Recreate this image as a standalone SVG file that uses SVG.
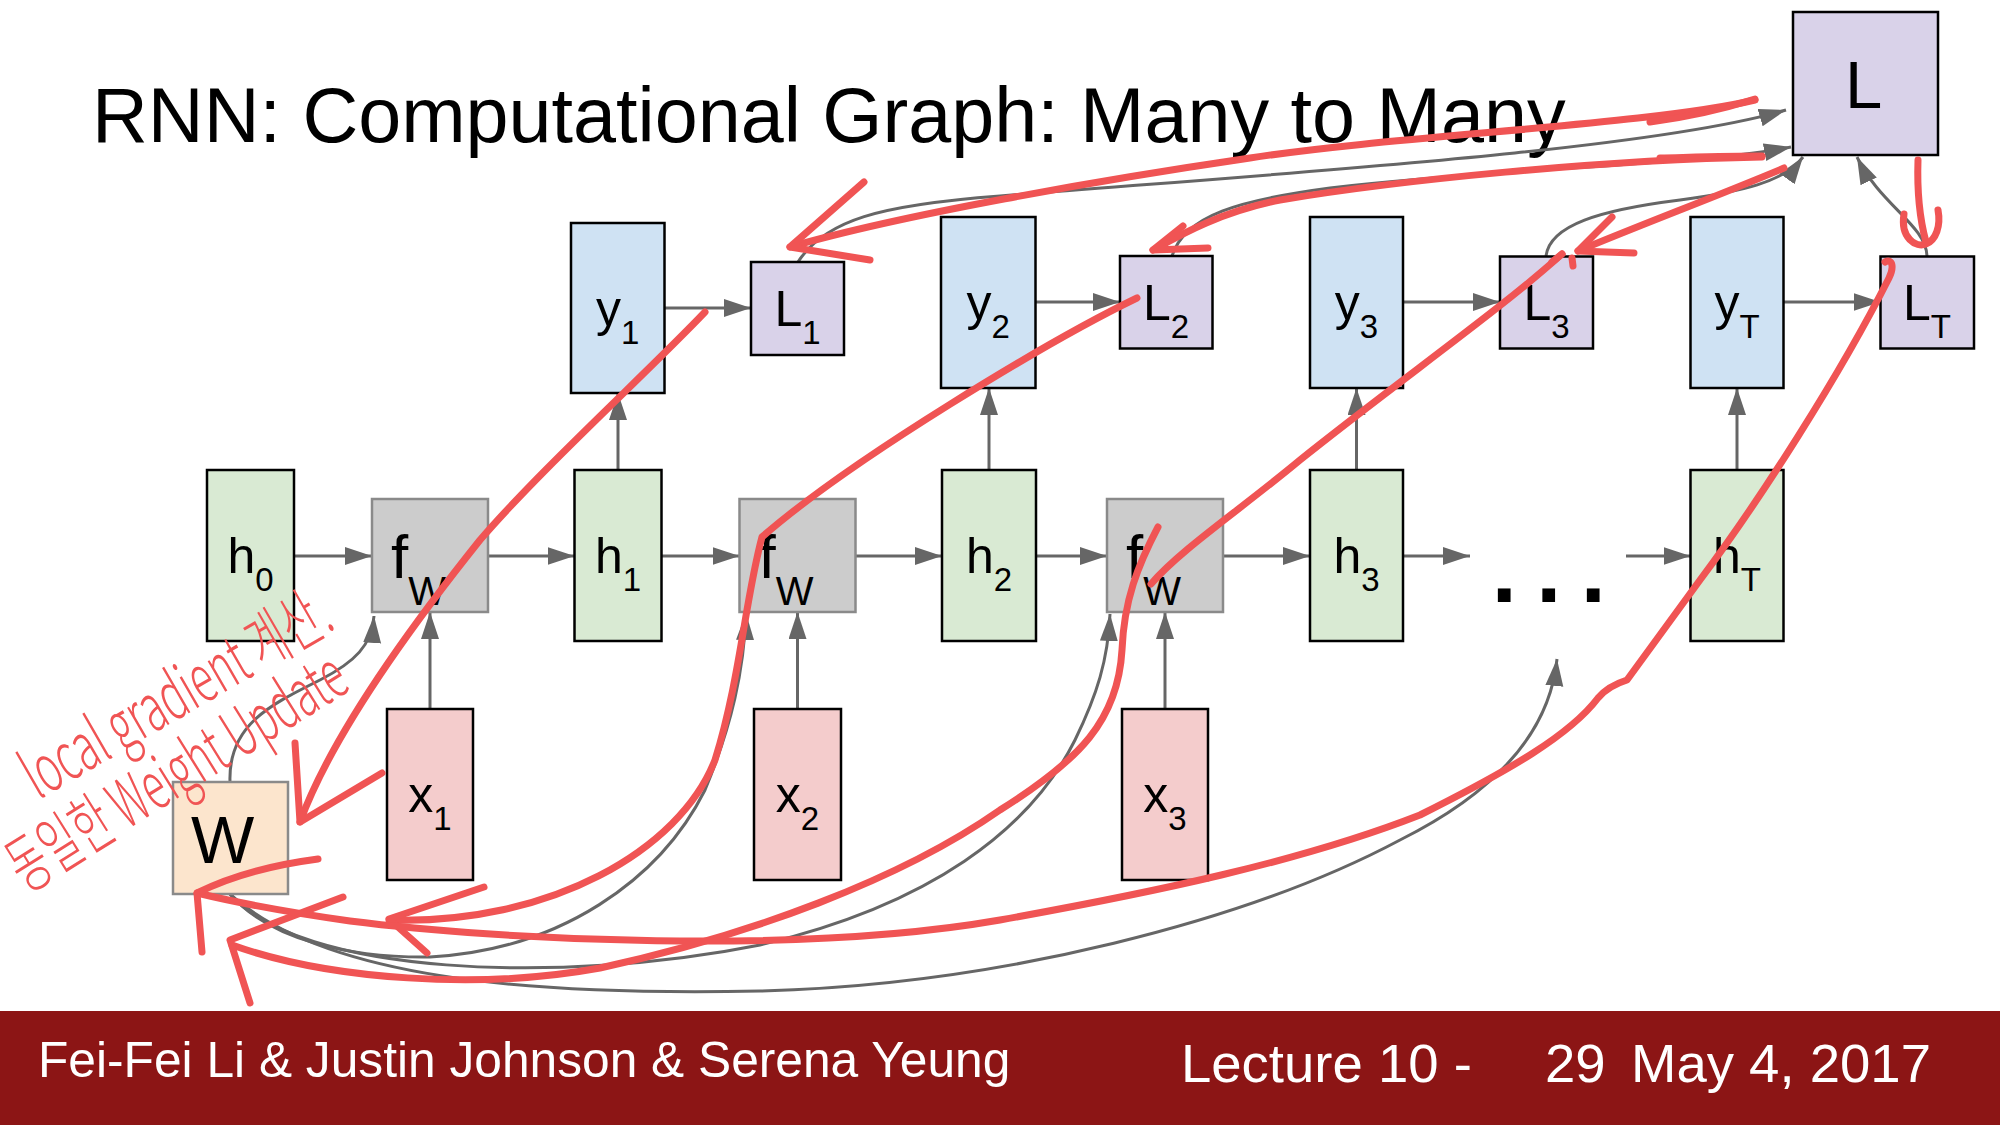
<svg xmlns="http://www.w3.org/2000/svg" width="2000" height="1125" viewBox="0 0 2000 1125">
<defs>
<marker id="ah" markerUnits="userSpaceOnUse" markerWidth="30" markerHeight="20" refX="27" refY="9" orient="auto"><path d="M0,0 L27,9 L0,18 z" fill="#666"/></marker>
<style>
.bx{stroke:#000;stroke-width:2.5}
.h{fill:#d9ead3}.y{fill:#cfe2f3}.l{fill:#d9d2e9}.x{fill:#f4cccc}
.f{fill:#cccccc;stroke:#8a8a8a;stroke-width:2.5}
.w{fill:#fce5cd;stroke:#8a8a8a;stroke-width:2.5}
.lbl{font-family:"Liberation Sans",Arial,sans-serif;font-size:50px;fill:#000;text-anchor:middle}
.sub{font-size:33px}
.big{font-family:"Liberation Sans",Arial,sans-serif;font-size:67px;fill:#000}
.fl{font-family:"Liberation Sans",Arial,sans-serif;font-size:62px;fill:#000}
.fs{font-size:40px}
.con{fill:none;stroke:#666;stroke-width:3;marker-end:url(#ah)}
.red{fill:none;stroke:#f05454;stroke-width:7;stroke-linecap:round;stroke-linejoin:round}
.hw{font-family:"Noto Sans CJK KR","Noto Sans",sans-serif;font-size:66px;fill:#f05454;font-weight:300}
.ft{font-family:"Liberation Sans",Arial,sans-serif;fill:#fff}
</style>
</defs>
<rect width="2000" height="1125" fill="#fff"/>
<text x="92" y="142" font-family="Liberation Sans, Arial, sans-serif" font-size="77.3" fill="#000">RNN: Computational Graph: Many to Many</text>

<g id="connectors">
<line class="con" x1="294" y1="556" x2="372" y2="556"/>
<line class="con" x1="488" y1="556" x2="574.5" y2="556"/>
<line class="con" x1="661" y1="556" x2="739.5" y2="556"/>
<line class="con" x1="855.5" y1="556" x2="942" y2="556"/>
<line class="con" x1="1036" y1="556" x2="1107" y2="556"/>
<line class="con" x1="1223" y1="556" x2="1310" y2="556"/>
<line class="con" x1="1403" y1="556" x2="1470" y2="556"/>
<line class="con" x1="1626" y1="556" x2="1690.5" y2="556"/>
<line class="con" x1="430" y1="709" x2="430" y2="612"/>
<line class="con" x1="797.5" y1="709" x2="797.5" y2="612"/>
<line class="con" x1="1165" y1="709" x2="1165" y2="612"/>
<line class="con" x1="618" y1="470" x2="618" y2="393"/>
<line class="con" x1="989" y1="470" x2="989" y2="388"/>
<line class="con" x1="1356.5" y1="470" x2="1356.5" y2="388"/>
<line class="con" x1="1737" y1="470" x2="1737" y2="388"/>
<line class="con" x1="664.5" y1="308" x2="751" y2="308"/>
<line class="con" x1="1035.5" y1="302" x2="1120" y2="302"/>
<line class="con" x1="1403" y1="302" x2="1500" y2="302"/>
<line class="con" x1="1783.5" y1="302" x2="1880.5" y2="302"/>
<path class="con" d="M230,782 C228,725 270,705 320,680 C355,662 372,645 374,616"/>
<path class="con" d="M230,894 C270,940 350,958 430,957 C560,950 660,880 705,790 C732,725 744,670 746,613"/>
<path class="con" d="M230,894 C300,975 560,985 760,945 C930,905 1030,830 1075,740 C1097,695 1108,660 1110,614"/>
<path class="con" d="M230,894 C330,985 560,995 760,991 C1000,985 1250,920 1400,840 C1500,790 1550,730 1557,659"/>
<path class="con" d="M798,262 C825,220 880,205 1000,196 C1300,172 1650,150 1786,110"/>
<path class="con" d="M1172,256 C1185,215 1240,200 1330,188 C1500,168 1700,165 1791,147"/>
<path class="con" d="M1546,256 C1550,225 1600,210 1680,200 C1740,192 1785,182 1803,157"/>
<path class="con" d="M1927,256 C1926,225 1880,205 1857,157"/>
</g>

<g id="h0"><rect class="bx h" x="207" y="470" width="87" height="171"/><text class="lbl" x="250.5" y="573">h<tspan class="sub" dy="18">0</tspan></text></g>
<g id="fw1"><rect class="f" x="372" y="499" width="116" height="113"/><text class="fl" x="391" y="578">f<tspan class="fs" dy="27">W</tspan></text></g>
<g id="h1"><rect class="bx h" x="574.5" y="470" width="87" height="171"/><text class="lbl" x="618" y="573">h<tspan class="sub" dy="18">1</tspan></text></g>
<g id="fw2"><rect class="f" x="739.5" y="499" width="116" height="113"/><text class="fl" x="758.5" y="578">f<tspan class="fs" dy="27">W</tspan></text></g>
<g id="h2"><rect class="bx h" x="942" y="470" width="94" height="171"/><text class="lbl" x="989" y="573">h<tspan class="sub" dy="18">2</tspan></text></g>
<g id="fw3"><rect class="f" x="1107" y="499" width="116" height="113"/><text class="fl" x="1126" y="578">f<tspan class="fs" dy="27">W</tspan></text></g>
<g id="h3"><rect class="bx h" x="1310" y="470" width="93" height="171"/><text class="lbl" x="1356.5" y="573">h<tspan class="sub" dy="18">3</tspan></text></g>
<g id="dots"><text x="1491.7" y="602" font-family="Liberation Sans, Arial, sans-serif" font-weight="bold" font-size="90" letter-spacing="19.5" fill="#000">...</text></g>
<g id="hT"><rect class="bx h" x="1690.5" y="470" width="93" height="171"/><text class="lbl" x="1737" y="573">h<tspan class="sub" dy="18">T</tspan></text></g>
<g id="x1"><rect class="bx x" x="387" y="709" width="86" height="171"/><text class="lbl" x="430" y="812">x<tspan class="sub" dy="18">1</tspan></text></g>
<g id="x2"><rect class="bx x" x="754" y="709" width="87" height="171"/><text class="lbl" x="797.5" y="812">x<tspan class="sub" dy="18">2</tspan></text></g>
<g id="x3"><rect class="bx x" x="1122" y="709" width="86" height="171"/><text class="lbl" x="1165" y="812">x<tspan class="sub" dy="18">3</tspan></text></g>
<g id="W"><rect class="w" x="173" y="782" width="115" height="112"/><text class="big" x="191" y="863">W</text></g>
<g id="y1"><rect class="bx y" x="571" y="223" width="93.5" height="170"/><text class="lbl" x="617.8" y="326">y<tspan class="sub" dy="18">1</tspan></text></g>
<g id="y2"><rect class="bx y" x="941" y="217" width="94.5" height="171"/><text class="lbl" x="988.3" y="320">y<tspan class="sub" dy="18">2</tspan></text></g>
<g id="y3"><rect class="bx y" x="1310" y="217" width="93" height="171"/><text class="lbl" x="1356.5" y="320">y<tspan class="sub" dy="18">3</tspan></text></g>
<g id="yT"><rect class="bx y" x="1690.5" y="217" width="93" height="171"/><text class="lbl" x="1737" y="320">y<tspan class="sub" dy="18">T</tspan></text></g>
<g id="L1"><rect class="bx l" x="751" y="262" width="93" height="93"/><text class="lbl" x="797.5" y="326">L<tspan class="sub" dy="18">1</tspan></text></g>
<g id="L2"><rect class="bx l" x="1120" y="256" width="92.5" height="92.5"/><text class="lbl" x="1166" y="320">L<tspan class="sub" dy="18">2</tspan></text></g>
<g id="L3"><rect class="bx l" x="1500" y="256.5" width="93" height="92"/><text class="lbl" x="1546.5" y="320">L<tspan class="sub" dy="18">3</tspan></text></g>
<g id="LT"><rect class="bx l" x="1880.5" y="256.5" width="93.5" height="92"/><text class="lbl" x="1927" y="320">L<tspan class="sub" dy="18">T</tspan></text></g>
<g id="L"><rect class="bx l" x="1793" y="12" width="145" height="143"/><text class="big" x="1845" y="108">L</text></g>

<g id="footer">
<rect x="0" y="1011" width="2000" height="114" fill="#8c1515"/>
<text class="ft" x="38" y="1077" font-size="49.7">Fei-Fei Li &amp; Justin Johnson &amp; Serena Yeung</text>
<text class="ft" x="1181" y="1082" font-size="54.5">Lecture 10 -</text>
<text class="ft" x="1545" y="1082" font-size="54.5">29</text>
<text class="ft" x="1631" y="1082" font-size="54.5">May 4, 2017</text>
</g>

<g id="annotations">
<path class="red" d="M1755,100 C1650,125 1400,135 1250,158 C1100,180 900,215 790,247"/>
<path class="red" stroke-width="12" d="M1755,99 C1720,110 1690,117 1650,122"/>
<path class="red" stroke-width="9" d="M864,182 L790,247 L870,260"/>
<path class="red" stroke-width="5" d="M1762,157 C1600,160 1400,180 1280,200 C1220,212 1180,235 1153,250"/>
<path class="red" stroke-width="10" d="M1762,156 C1730,156 1700,157 1660,158"/>
<path class="red" stroke-width="7" d="M1183,226 L1153,250 L1208,248"/>
<path class="red" d="M1784,168 C1720,195 1640,225 1578,251"/>
<path class="red" d="M1612,217 L1578,251 L1634,253"/>
<path class="red" stroke-width="4" d="M1572,258 L1573,266"/>
<path class="red" d="M1918,160 C1917,190 1920,220 1926,242"/>
<path class="red" d="M1904,214 C1900,238 1916,248 1926,244 C1936,240 1941,226 1938,210"/>
<path class="red" d="M705,312 C650,370 540,470 480,540 C400,640 330,740 300,822"/>
<path class="red" stroke-width="10" d="M295,743 L300,822 L382,773"/>
<path class="red" d="M1137,298 C1050,340 850,460 762,537 C745,600 740,680 715,760 C680,850 550,925 389,920"/>
<path class="red" stroke-width="9" d="M484,887 L389,919 L427,953"/>
<path class="red" d="M1158,527 C1138,565 1124,600 1122,650 C1118,720 1080,760 1000,810 C900,880 750,935 600,968 C480,990 330,980 232,945"/>
<path class="red" stroke-width="9" d="M343,897 L230,940 L250,1003"/>
<path class="red" d="M1562,254 C1500,310 1400,380 1300,460 C1240,510 1180,550 1151,584"/>
<path class="red" stroke-width="10" d="M1562,254 L1552,262"/>
<path class="red" stroke-width="8" d="M1885,262 C1893,258 1894,268 1889,278 C1840,375 1760,500 1700,580 L1627,680 Q1608,686 1598,698 C1570,735 1510,770 1420,815 C1300,862 1150,893 1000,920 C800,955 500,940 350,921 C280,911 230,901 197,893"/>
<path class="red" stroke-width="9" d="M318,859 C265,866 225,879 197,893 L202,952"/>
<text class="hw" transform="translate(38,800) rotate(-30)" textLength="345" lengthAdjust="spacingAndGlyphs">local gradient 계산.</text>
<text class="hw" transform="translate(26,893) rotate(-32)" textLength="385" lengthAdjust="spacingAndGlyphs">동일한 Weight Update</text>
</g>
</svg>
